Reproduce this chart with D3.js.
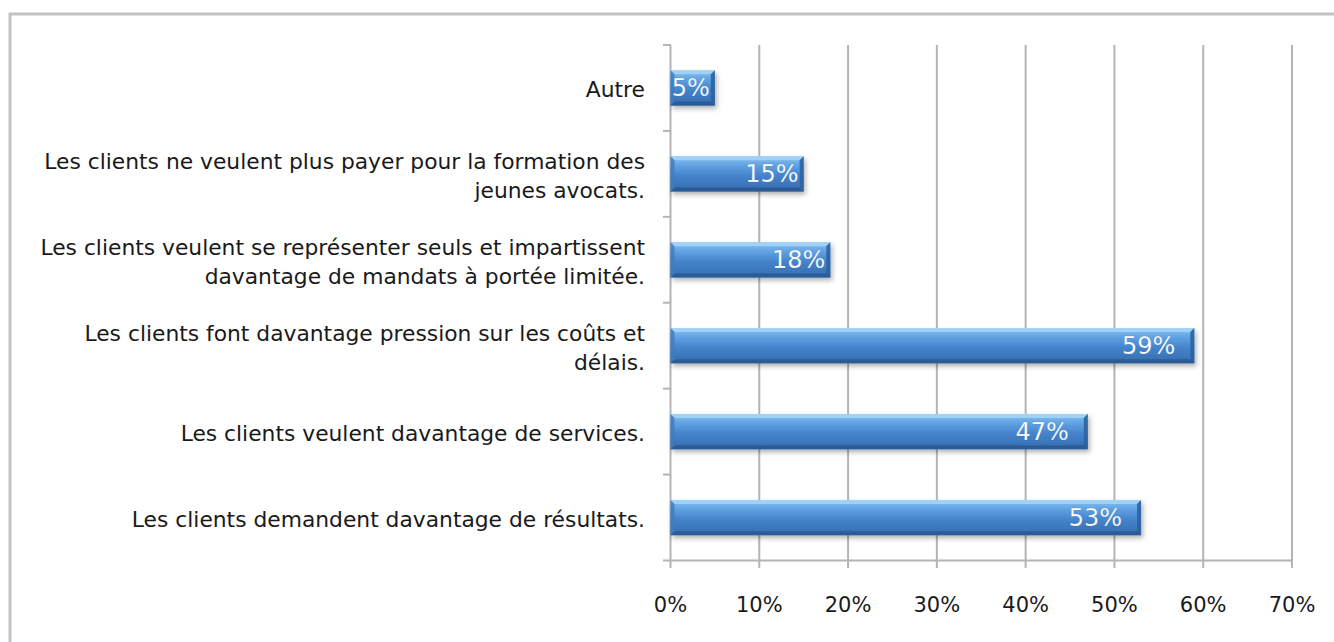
<!DOCTYPE html>
<html>
<head>
<meta charset="utf-8">
<script src="https://cdn.jsdelivr.net/npm/d3@7"></script>
<style>
  body { margin: 0; background: #fff; }
  svg { display: block; }
</style>
</head>
<body>
<svg></svg>
<script>
const categories = [
  ["Autre"],
  ["Les clients ne veulent plus payer pour la formation des", "jeunes avocats."],
  ["Les clients veulent se représenter seuls et impartissent", "davantage de mandats à portée limitée."],
  ["Les clients font davantage pression sur les coûts et", "délais."],
  ["Les clients veulent davantage de services."],
  ["Les clients demandent davantage de résultats."]
];
const values = [5, 15, 18, 59, 47, 53];
const ticks = [0, 10, 20, 30, 40, 50, 60, 70];

const w = 1334, h = 642;
const svg = d3.select("svg").attr("width", w).attr("height", h);

// frame
svg.append("rect")
  .attr("x", 10).attr("y", 14)
  .attr("width", w + 20).attr("height", h + 20)
  .attr("fill", "none").attr("stroke", "#c2c2c2").attr("stroke-width", 3);

const x = d3.scaleLinear().domain([0, 70]).range([670.5, 1292]);
const y = d3.scaleBand()
  .domain(d3.range(categories.length))
  .range([45, 560.5])
  .paddingInner(0.59)
  .paddingOuter(0.295);

const defs = svg.append("defs");
const grad = defs.append("linearGradient").attr("id", "barGrad")
  .attr("x1", 0).attr("y1", 0).attr("x2", 0).attr("y2", 1);
grad.append("stop").attr("offset", "0%").attr("stop-color", "#86c2f0");
grad.append("stop").attr("offset", "30%").attr("stop-color", "#5c9de0");
grad.append("stop").attr("offset", "55%").attr("stop-color", "#4584cb");
grad.append("stop").attr("offset", "100%").attr("stop-color", "#356cae");

const shadow = defs.append("filter").attr("id", "shadow")
  .attr("x", "-10%").attr("y", "-20%").attr("width", "130%").attr("height", "160%");
shadow.append("feDropShadow")
  .attr("dx", 2).attr("dy", 3).attr("stdDeviation", 2.5)
  .attr("flood-color", "#000").attr("flood-opacity", 0.3);

// gridlines
svg.append("g")
  .selectAll("line")
  .data(ticks)
  .enter()
  .append("line")
  .attr("x1", d => x(d)).attr("x2", d => x(d))
  .attr("y1", 45).attr("y2", 568)
  .attr("stroke", "#b4b4b4").attr("stroke-width", 2);

// x axis line
svg.append("line")
  .attr("x1", 663).attr("x2", x(70) + 1)
  .attr("y1", 560.5).attr("y2", 560.5)
  .attr("stroke", "#b4b4b4").attr("stroke-width", 2);

// y ticks between categories
const yTicks = d3.range(categories.length).map(i => y(i) - y.step() * y.paddingInner() / 2);
svg.append("g")
  .selectAll("line")
  .data(yTicks)
  .enter()
  .append("line")
  .attr("x1", 663).attr("x2", 671)
  .attr("y1", d => d).attr("y2", d => d)
  .attr("stroke", "#b4b4b4").attr("stroke-width", 2);

// x tick labels
svg.append("g")
  .selectAll("text")
  .data(ticks)
  .enter()
  .append("text")
  .attr("x", d => x(d)).attr("y", 612)
  .attr("text-anchor", "middle")
  .attr("font-family", "DejaVu Sans")
  .attr("font-size", 21)
  .attr("fill", "#1a1a1a")
  .text(d => d + "%");

// category labels
const labels = svg.append("g")
  .selectAll("text")
  .data(categories)
  .enter()
  .append("text")
  .attr("text-anchor", "end")
  .attr("font-family", "DejaVu Sans")
  .attr("font-size", 21.8)
  .attr("fill", "#1a1a1a");
labels.each(function (d, i) {
  const cy = y(i) + y.bandwidth() / 2;
  const lh = 29;
  const top = cy + 9.5 - (d.length - 1) * lh / 2;
  d3.select(this).selectAll("tspan")
    .data(d)
    .enter()
    .append("tspan")
    .attr("x", 645)
    .attr("y", (t, j) => top + j * lh)
    .text(t => t);
});

// bars
const bars = svg.append("g")
  .selectAll("g")
  .data(values)
  .enter()
  .append("g");

bars.append("rect")
  .attr("x", x(0))
  .attr("y", (d, i) => y(i))
  .attr("width", d => x(d) - x(0))
  .attr("height", y.bandwidth())
  .attr("fill", "url(#barGrad)")
  .attr("filter", "url(#shadow)");

// bevel facets
const b = 4;
bars.each(function (d, i) {
  const x0 = x(0), x1 = x(d), y0 = y(i), y1 = y(i) + y.bandwidth();
  const g = d3.select(this);
  g.append("path")
    .attr("d", `M${x0},${y0}L${x1},${y0}L${x1 - b},${y0 + b}L${x0 + b},${y0 + b}Z`)
    .attr("fill", "#a6d6f8").attr("opacity", 0.85);
  g.append("path")
    .attr("d", `M${x0},${y1}L${x1},${y1}L${x1 - b},${y1 - b}L${x0 + b},${y1 - b}Z`)
    .attr("fill", "#2a5a94").attr("opacity", 0.9);
  g.append("path")
    .attr("d", `M${x1},${y0}L${x1},${y1}L${x1 - b},${y1 - b}L${x1 - b},${y0 + b}Z`)
    .attr("fill", "#2c62a0").attr("opacity", 0.9);
  g.append("path")
    .attr("d", `M${x0},${y0}L${x0},${y1}L${x0 + b},${y1 - b}L${x0 + b},${y0 + b}Z`)
    .attr("fill", "#3f7cc0").attr("opacity", 0.8);
});

// value labels
bars.append("text")
  .attr("x", d => x(d) - (x(d) - x(0) > 200 ? 19 : 5))
  .attr("y", (d, i) => y(i) + y.bandwidth() / 2 + 8.5)
  .attr("text-anchor", "end")
  .attr("font-family", "DejaVu Sans")
  .attr("font-size", 24)
  .attr("fill", "#fff")
  .attr("stroke", "#2f5f95").attr("stroke-width", 0.4).attr("stroke-opacity", 0.4)
  .text(d => d + "%");
</script>
</body>
</html>
